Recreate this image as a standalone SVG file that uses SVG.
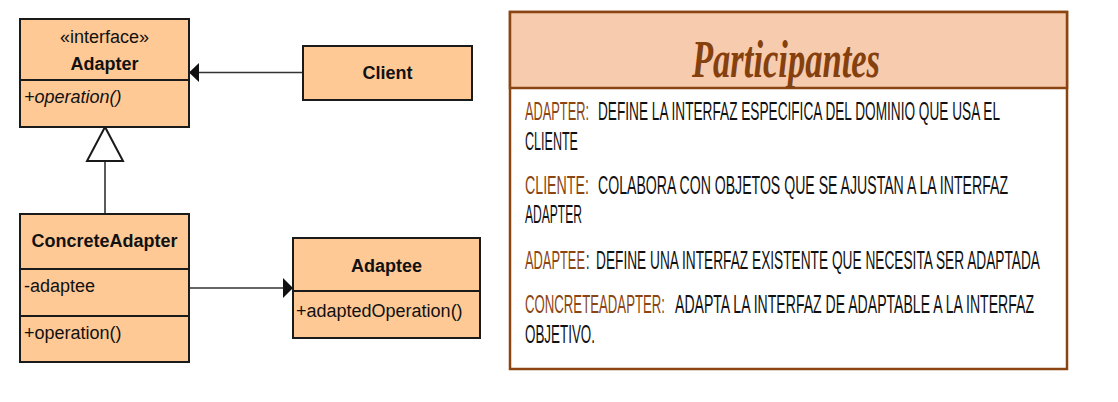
<svg xmlns="http://www.w3.org/2000/svg" width="1118" height="402" viewBox="0 0 1118 402">
<defs>
<style>
.box{fill:#FFC996;stroke:#1a1a1a;stroke-width:2}
.div{stroke:#1a1a1a;stroke-width:2}
.t{font-family:"Liberation Sans",Arial,sans-serif;font-size:18px;fill:#111}
.b{font-weight:bold}
.c{text-anchor:middle}
.conn{stroke:#333;stroke-width:1.6;fill:none}
.p{font-family:"Liberation Sans",Arial,sans-serif;font-size:25px;fill:#111}
.lab{fill:#8B4513}
</style>
</defs>
<rect width="1118" height="402" fill="#fff"/>
<g id="connectors">
<line class="conn" x1="303" y1="72.5" x2="198" y2="72.5"/>
<polygon points="189,72.5 199,63 199,82" fill="#111"/>
<line class="conn" x1="105" y1="161" x2="105" y2="214"/>
<polygon points="105,127 87,161 123,161" fill="#fff" stroke="#1a1a1a" stroke-width="2"/>
<line class="conn" x1="189" y1="288" x2="284" y2="288"/>
<polygon points="293,288 283,278 283,298" fill="#111"/>
</g>
<g id="adapter">
<rect class="box" x="20" y="19" width="169" height="108"/>
<line class="div" x1="20" y1="80" x2="189" y2="80"/>
<text class="t c" x="104.5" y="43">«interface»</text>
<text class="t b c" x="104.5" y="70">Adapter</text>
<text class="t" x="24" y="103" font-style="italic">+operation()</text>
</g>
<g id="client">
<rect class="box" x="303" y="46" width="169" height="54"/>
<text class="t b c" x="387.5" y="79">Client</text>
</g>
<g id="concreteadapter">
<rect class="box" x="20" y="214" width="169" height="148"/>
<line class="div" x1="20" y1="269" x2="189" y2="269"/>
<line class="div" x1="20" y1="316" x2="189" y2="316"/>
<text class="t b c" x="104.5" y="247">ConcreteAdapter</text>
<text class="t" x="24" y="292">-adaptee</text>
<text class="t" x="24" y="339">+operation()</text>
</g>
<g id="adaptee">
<rect class="box" x="293" y="238" width="187" height="100"/>
<line class="div" x1="293" y1="291" x2="480" y2="291"/>
<text class="t b c" x="386.5" y="272">Adaptee</text>
<text class="t" x="296" y="317">+adaptedOperation()</text>
</g>
<g id="participantes">
<rect x="510" y="12" width="557" height="357" fill="#fff" stroke="#8B4513" stroke-width="2.5"/>
<rect x="510" y="12" width="557" height="76" fill="#F7CBAD" stroke="#8B4513" stroke-width="2.5"/>
<text x="786" y="77" font-family="'Liberation Serif',serif" font-style="italic" font-weight="bold" font-size="52" fill="#84400E" text-anchor="middle" textLength="188" lengthAdjust="spacingAndGlyphs">Participantes</text>
<g transform="scale(0.5,1)">
<text class="p lab" x="1050" y="120" textLength="128" lengthAdjust="spacingAndGlyphs">ADAPTER:</text>
<text class="p" x="1196" y="120" textLength="804" lengthAdjust="spacingAndGlyphs">DEFINE LA INTERFAZ ESPECIFICA DEL DOMINIO QUE USA EL</text>
<text class="p" x="1050" y="150" textLength="106" lengthAdjust="spacingAndGlyphs">CLIENTE</text>
<text class="p lab" x="1050" y="194" textLength="128" lengthAdjust="spacingAndGlyphs">CLIENTE:</text>
<text class="p" x="1196" y="194" textLength="820" lengthAdjust="spacingAndGlyphs">COLABORA CON OBJETOS QUE SE AJUSTAN A LA INTERFAZ</text>
<text class="p" x="1050" y="223" textLength="114" lengthAdjust="spacingAndGlyphs">ADAPTER</text>
<text class="p lab" x="1050" y="269" textLength="120" lengthAdjust="spacingAndGlyphs">ADAPTEE</text>
<text class="p" x="1172" y="269" fill="#2F3F8F">:</text>
<text class="p" x="1192" y="269" textLength="888" lengthAdjust="spacingAndGlyphs">DEFINE UNA INTERFAZ EXISTENTE QUE NECESITA SER ADAPTADA</text>
<text class="p lab" x="1050" y="313" textLength="280" lengthAdjust="spacingAndGlyphs">CONCRETEADAPTER:</text>
<text class="p" x="1350" y="313" textLength="718" lengthAdjust="spacingAndGlyphs">ADAPTA LA INTERFAZ DE ADAPTABLE A LA INTERFAZ</text>
<text class="p" x="1050" y="343" textLength="140" lengthAdjust="spacingAndGlyphs">OBJETIVO.</text>
</g>
</g>
</svg>
